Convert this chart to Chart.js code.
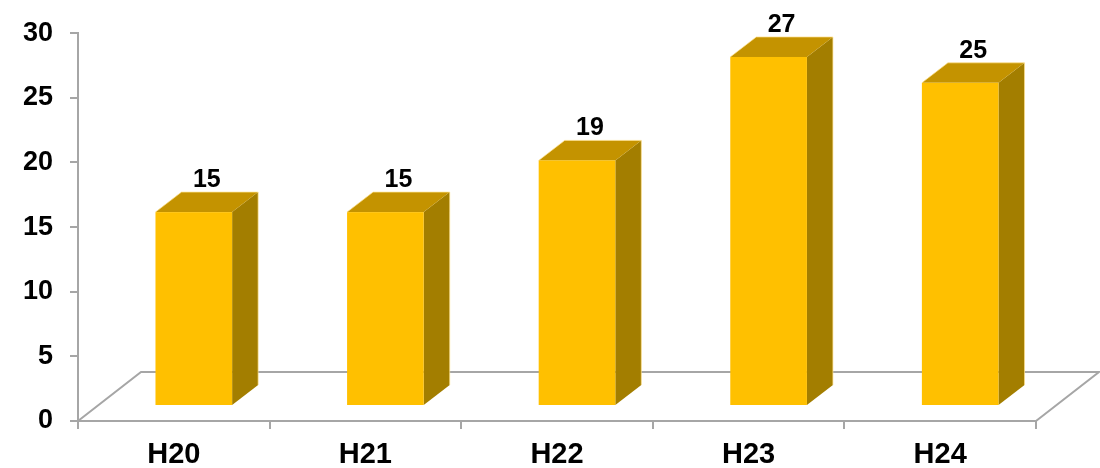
<!DOCTYPE html>
<html>
<head>
<meta charset="utf-8">
<script src="https://cdn.jsdelivr.net/npm/chart.js@4/dist/chart.umd.min.js"></script>
<style>
  html, body { margin: 0; padding: 0; background: #fff; }
  #wrap { width: 1100px; height: 468px; }
</style>
</head>
<body>
<div id="wrap"><canvas id="chart" width="1100" height="468"></canvas></div>
<script>
// categories and values
const categories = ["H20", "H21", "H22", "H23", "H24"];
const counts = [15, 15, 19, 27, 25];
const yMax = 30;
const yStep = 5;

const FONT = "'Liberation Sans', Arial, sans-serif";
const AXIS_GREY = "#A6A6A6";
const FACE_FRONT = "#FFC000";
const FACE_TOP = "#C49300";
const FACE_SIDE = "#A37E00";

// depth of the floor, and where the bars sit inside it
const FLOOR_DX = 63;
const FLOOR_DY = -49;
const FRONT_DX = 20;
const FRONT_DY = -15;
const BAR_DX = 26;
const BAR_DY = -20;

function poly(ctx, pts, fill) {
  ctx.beginPath();
  ctx.moveTo(pts[0][0], pts[0][1]);
  for (let i = 1; i < pts.length; i++) ctx.lineTo(pts[i][0], pts[i][1]);
  ctx.closePath();
  ctx.fillStyle = fill;
  ctx.fill();
}

/**
 * draws the floor outline and fake 3d bars on top of the (invisible) bar elements
 */
const bar3d = {
  id: "bar3d",
  beforeDatasetsDraw(chart) {
    const { ctx } = chart;
    const { left, right, bottom } = chart.chartArea;
    ctx.save();
    ctx.strokeStyle = AXIS_GREY;
    ctx.lineWidth = 2;
    ctx.beginPath();
    ctx.moveTo(left, bottom);
    ctx.lineTo(left + FLOOR_DX, bottom + FLOOR_DY);
    ctx.lineTo(right + FLOOR_DX, bottom + FLOOR_DY);
    ctx.lineTo(right, bottom);
    ctx.stroke();
    ctx.restore();
  },
  afterDatasetsDraw(chart) {
    const { ctx } = chart;
    const meta = chart.getDatasetMeta(0);
    ctx.save();
    meta.data.forEach((el, i) => {
      const { x, y, base, width } = el.getProps(["x", "y", "base", "width"], true);
      const fx = x - width / 2 + FRONT_DX;
      const fy = y + FRONT_DY;
      const fb = base + FRONT_DY;
      const rx = fx + width;

      // side face
      poly(ctx, [[rx, fy], [rx + BAR_DX, fy + BAR_DY], [rx + BAR_DX, fb + BAR_DY], [rx, fb]], FACE_SIDE);
      // top face
      poly(ctx, [[fx, fy], [fx + BAR_DX, fy + BAR_DY], [rx + BAR_DX, fy + BAR_DY], [rx, fy]], FACE_TOP);
      // front face
      ctx.fillStyle = FACE_FRONT;
      ctx.fillRect(fx, fy, width, fb - fy);

      // light rim on the outer edges
      ctx.strokeStyle = "rgba(255, 225, 140, 0.7)";
      ctx.lineWidth = 1;
      ctx.beginPath();
      ctx.moveTo(fx, fy);
      ctx.lineTo(fx + BAR_DX, fy + BAR_DY);
      ctx.lineTo(rx + BAR_DX, fy + BAR_DY);
      ctx.lineTo(rx + BAR_DX, fb + BAR_DY);
      ctx.stroke();

      // value label above the top face
      ctx.fillStyle = "#000";
      ctx.font = "bold 25px " + FONT;
      ctx.textAlign = "center";
      ctx.textBaseline = "alphabetic";
      ctx.fillText(String(counts[i]), fx + width / 2 + BAR_DX / 2, fy + BAR_DY - 5);
    });
    ctx.restore();
  },
};

const data = {
  labels: categories,
  datasets: [
    {
      data: counts,
      backgroundColor: "rgba(0,0,0,0)",
      borderWidth: 0,
      categoryPercentage: 1,
      barPercentage: 0.4,
    },
  ],
};

new Chart(document.getElementById("chart"), {
  type: "bar",
  data: data,
  plugins: [bar3d],
  options: {
    responsive: false,
    animation: false,
    layout: {
      padding: { top: 29, right: 64, left: 0, bottom: 0 },
    },
    plugins: {
      legend: { display: false },
      tooltip: { enabled: false },
    },
    scales: {
      x: {
        afterFit(scale) {
          scale.height = 47;
        },
        grid: {
          offset: true,
          drawOnChartArea: false,
          color: AXIS_GREY,
          lineWidth: 2,
          tickLength: 8,
        },
        border: { color: AXIS_GREY, width: 2 },
        ticks: {
          color: "#000",
          padding: 9,
          font: { family: FONT, size: 29, weight: "bold" },
        },
      },
      y: {
        min: 0,
        max: yMax,
        afterFit(scale) {
          scale.width = 78;
        },
        grid: {
          drawOnChartArea: false,
          color: AXIS_GREY,
          lineWidth: 2,
          tickLength: 8,
        },
        border: { color: AXIS_GREY, width: 2 },
        ticks: {
          stepSize: yStep,
          color: "#000",
          padding: 17,
          font: { family: FONT, size: 27, weight: "bold" },
        },
      },
    },
  },
});
</script>
</body>
</html>
